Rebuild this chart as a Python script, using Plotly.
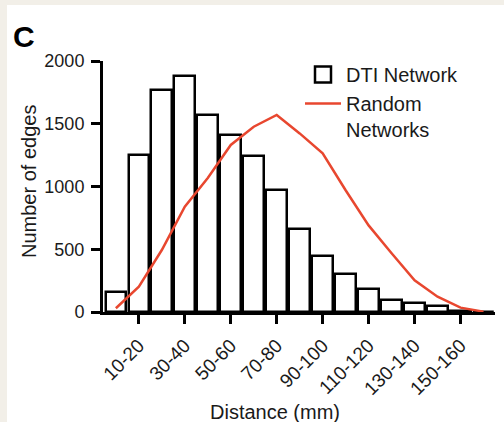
import plotly.graph_objects as go

# Edge-length histogram: DTI network vs. averaged random networks
distance_bins = ["0-10", "10-20", "20-30", "30-40", "40-50", "50-60", "60-70",
                 "70-80", "80-90", "90-100", "100-110", "110-120", "120-130",
                 "130-140", "140-150", "150-160", "160-170"]
dti_edges = [160, 1250, 1770, 1880, 1570, 1410, 1240, 970, 665, 444, 306,
             187, 99, 72, 45, 8, 2]
random_edges = [30, 202, 494, 839, 1068, 1331, 1476, 1570, 1423, 1265, 970,
                690, 468, 253, 122, 35, 3]
tick_bins = distance_bins[1::2]          # every other bin is labelled
y_ticks = [0, 500, 1000, 1500, 2000]

FONT = "Liberation Sans, Arial, Helvetica, sans-serif"
INK = "#1a1a1a"
RED = "#e8472f"

def bin_center(label):
    lo, hi = label.split("-")
    return (float(lo) + float(hi)) / 2

centers = [bin_center(b) for b in distance_bins]
tick_pos = [bin_center(b) for b in tick_bins]

W, H = 504, 422
L, R, T, B = 103, 9, 61, 110
PW, PH = W - L - R, H - T - B

def px_x(px):
    return (px - L) / PW

def px_y(py):
    return (H - B - py) / PH

fig = go.Figure()

fig.add_trace(go.Bar(
    x=centers, y=dti_edges, width=9,
    marker=dict(color="white", line=dict(color="black", width=2.5)),
    showlegend=False, name="DTI Network",
))

# legend entry for the histogram bars
fig.add_trace(go.Scatter(
    x=[None], y=[None], mode="markers", name="DTI Network",
    marker=dict(symbol="square", size=16, color="white",
                line=dict(color="black", width=2.5)),
))

fig.add_trace(go.Scatter(
    x=centers, y=random_edges, mode="lines", name="Random<br>Networks",
    line=dict(color=RED, width=2.5),
))

fig.update_layout(
    width=W, height=H,
    margin=dict(l=L, r=R, t=T, b=B),
    paper_bgcolor="#f2efe8",
    plot_bgcolor="white",
    font=dict(family=FONT, color=INK, size=18),
    bargap=0,
    legend=dict(
        x=px_x(300), y=px_y(55), xanchor="left", yanchor="top",
        bgcolor="rgba(0,0,0,0)", font=dict(size=20, color=INK),
        valign="top", traceorder="normal", itemwidth=36,
    ),
    shapes=[dict(
        type="rect", xref="paper", yref="paper", layer="below",
        x0=px_x(7), x1=px_x(W + 2), y0=px_y(H + 2), y1=px_y(5),
        fillcolor="white", line=dict(width=0),
    )],
    annotations=[
        dict(text="<b>C</b>", xref="paper", yref="paper",
             x=px_x(24), y=px_y(36), xanchor="center", yanchor="middle",
             showarrow=False, font=dict(size=30, color="black")),
        dict(text="Distance (mm)", xref="paper", yref="paper",
             x=px_x(275), y=px_y(412), xanchor="center", yanchor="middle",
             showarrow=False, font=dict(size=20, color=INK)),
        dict(text="Number of edges", xref="paper", yref="paper",
             x=px_x(29), y=px_y(182), xanchor="center", yanchor="middle",
             textangle=-90, showarrow=False, font=dict(size=20, color=INK)),
    ],
)

fig.update_xaxes(
    range=[-0.6, 170], showgrid=False, zeroline=False,
    showline=True, linecolor="black", linewidth=3,
    ticks="outside", ticklen=9, tickwidth=3, tickcolor="black",
    tickvals=tick_pos, ticktext=tick_bins, tickangle=-45,
    tickfont=dict(size=19, color=INK), ticklabelstandoff=3,
)
fig.update_yaxes(
    range=[0, 2000], showgrid=False, zeroline=False,
    showline=True, linecolor="black", linewidth=3,
    ticks="outside", ticklen=9, tickwidth=3, tickcolor="black",
    tickvals=y_ticks, tickfont=dict(size=18, color=INK), ticklabelstandoff=3,
)

fig.write_html("out.html")
